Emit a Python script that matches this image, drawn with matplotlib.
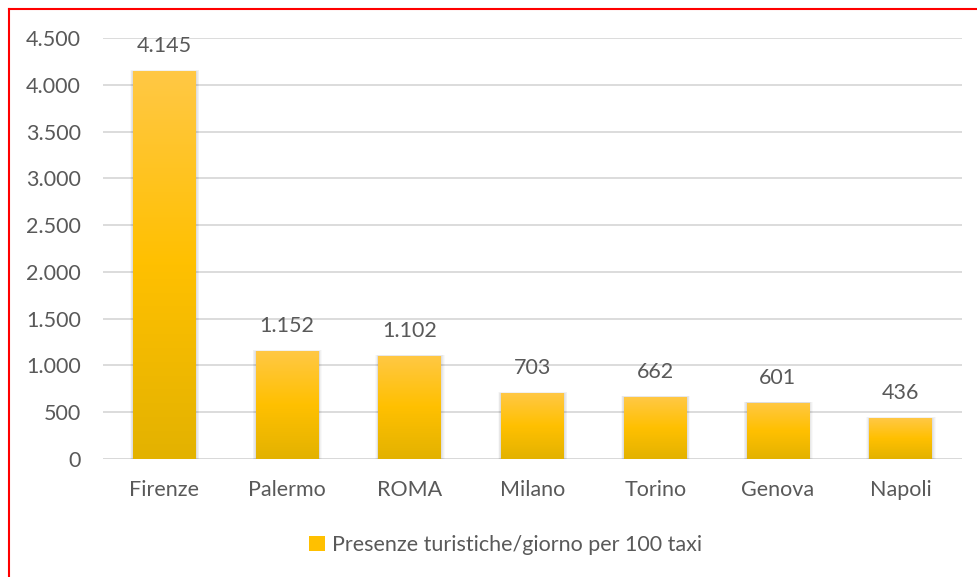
import numpy as np
import matplotlib.pyplot as plt
from matplotlib.colors import LinearSegmentedColormap
from matplotlib.patches import Rectangle
from matplotlib.lines import Line2D

cities = ["Firenze", "Palermo", "ROMA", "Milano", "Torino", "Genova", "Napoli"]
presenze = [4145, 1152, 1102, 703, 662, 601, 436]
yticks = [0, 500, 1000, 1500, 2000, 2500, 3000, 3500, 4000, 4500]
series_label = "Presenze turistiche/giorno per 100 taxi"

plt.rcParams["font.family"] = ["Lato", "DejaVu Sans"]
text_color = "#595959"
fs = 15.5

fig = plt.figure(figsize=(9.78, 5.77), dpi=100)
ax = fig.add_axes([103 / 978, 1 - 459 / 577, (962 - 103) / 978, (459 - 38) / 577])

ax.set_xlim(-0.5, len(cities) - 0.5)
ax.set_ylim(0, 4500)

# Gradient for bar fill: light top, saturated middle, darker bottom
grad = LinearSegmentedColormap.from_list(
    "gold", ["#E3B200", "#FFC000", "#FFC845"])
gradient = np.linspace(0, 1, 256).reshape(-1, 1)

width = 0.51
for i, v in enumerate(presenze):
    x0 = i - width / 2
    # soft shadow along the bar sides
    for k, a in enumerate([0.025, 0.03, 0.035, 0.04]):
        pad = 0.05 - k * 0.011
        ax.add_patch(Rectangle((x0 - pad * 0.5, 0), width + pad * 1.1,
                               v + pad * 250, facecolor="#000000", alpha=a,
                               edgecolor="none", zorder=2))
    im = ax.imshow(gradient, cmap=grad, aspect="auto", origin="lower",
                   extent=(x0, x0 + width, 0, v), zorder=3)
    clip = Rectangle((x0, 0), width, v, transform=ax.transData,
                     facecolor="none", edgecolor="none")
    ax.add_patch(clip)
    im.set_clip_path(clip)
    ax.text(i, v + 265, f"{v:,}".replace(",", "."), ha="center", va="center",
            fontsize=fs, color=text_color)

ax.set_xlim(-0.5, len(cities) - 0.5)
ax.set_ylim(0, 4500)
ax.set_xticks(range(len(cities)))
ax.set_xticklabels(cities)
ax.set_yticks(yticks)
ax.set_yticklabels([f"{t:,}".replace(",", ".") for t in yticks])
ax.tick_params(axis="both", length=0, labelsize=fs, labelcolor=text_color)
ax.tick_params(axis="x", pad=15)
ax.tick_params(axis="y", pad=16)

ax.grid(axis="y", color="#D9D9D9", linewidth=1.3, zorder=0)
ax.set_axisbelow(True)
for s in ax.spines.values():
    s.set_visible(False)
ax.axhline(0, color="#D9D9D9", linewidth=1.3, zorder=1)

# Legend
handle = Rectangle((0, 0), 1, 1, facecolor="#FFC000", edgecolor="none")
fig.legend([handle], [series_label], loc="center", bbox_to_anchor=(0.517, 1 - 545 / 577),
           frameon=False, fontsize=fs, labelcolor=text_color, handlelength=0.75,
           handleheight=0.75, handletextpad=0.3)

# Red frame on the left and top edges
fig.add_artist(Line2D([8.5 / 978, 8.5 / 978], [0, 1 - 9 / 577], color="red",
                      linewidth=1.5, transform=fig.transFigure))
fig.add_artist(Line2D([8.5 / 978, 1], [1 - 9 / 577, 1 - 9 / 577], color="red",
                      linewidth=1.5, transform=fig.transFigure))

fig.savefig("out.png", dpi=100, facecolor="white")
